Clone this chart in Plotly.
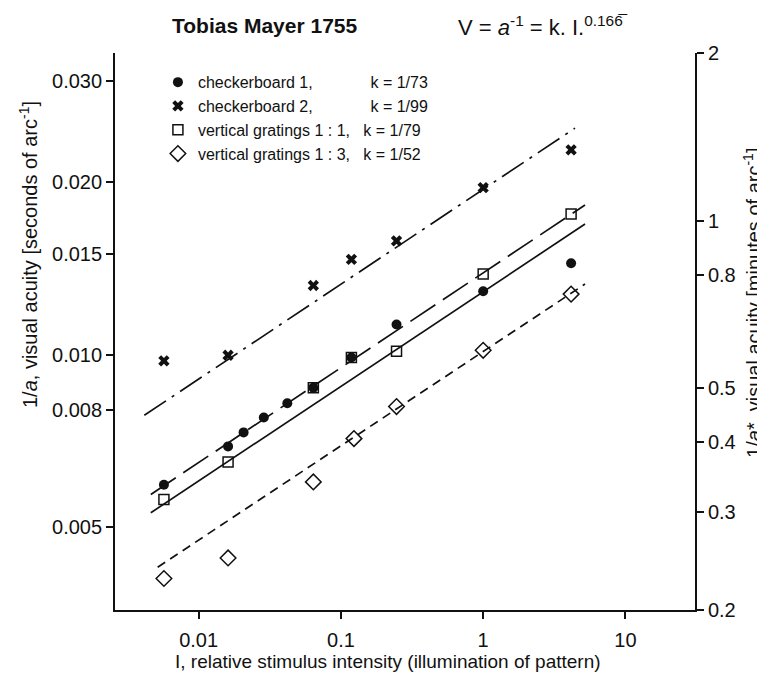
import math
import plotly.graph_objects as go

# ---------------- data ----------------
# relative stimulus intensity I
intensity = [0.0057, 0.0161, 0.0207, 0.0287, 0.042, 0.064, 0.1185, 0.246, 1.0, 4.15]

cb1_I = intensity
cb1_V = [0.00593, 0.00692, 0.00732, 0.00777, 0.00823, 0.00876, 0.00989, 0.01129, 0.01291, 0.01444]

cb2_I = [0.0057, 0.0161, 0.064, 0.1185, 0.246, 1.0, 4.15]
cb2_V = [0.00976, 0.00998, 0.01321, 0.01467, 0.01580, 0.01957, 0.02278]

vg11_I = [0.0057, 0.0161, 0.064, 0.1185, 0.246, 1.0, 4.15]
vg11_V = [0.00559, 0.00650, 0.00876, 0.00989, 0.01014, 0.01383, 0.01761]

vg13_I = [0.0057, 0.0161, 0.064, 0.1235, 0.246, 1.0, 4.15]
vg13_V = [0.00407, 0.00442, 0.00600, 0.00714, 0.00812, 0.01018, 0.01276]

# fitted lines (end points)
fit_dashdot_I = [0.00415, 4.42]
fit_dashdot_V = [0.00784, 0.02486]
fit_longdash_I = [0.00461, 5.20]
fit_longdash_V = [0.005705, 0.018255]
fit_solid_I = [0.00461, 5.20]
fit_solid_V = [0.00530, 0.01691]
fit_shortdash_I = [0.00515, 5.20]
fit_shortdash_V = [0.004258, 0.013287]

x_ticks = [0.01, 0.1, 1, 10]
x_ticktext = ["0.01", "0.1", "1", "10"]
yl_ticks = [0.005, 0.008, 0.010, 0.015, 0.020, 0.030]
yl_ticktext = ["0.005", "0.008", "0.010", "0.015", "0.020", "0.030"]
yr_ticks = [0.2, 0.3, 0.4, 0.5, 0.8, 1, 2]
yr_ticktext = ["0.2", "0.3", "0.4", "0.5", "0.8", "1", "2"]

FONT = "Liberation Sans, Arial, Helvetica, sans-serif"
BLACK = "#111111"

fig = go.Figure()

# fit lines
for xs, ys, dash in [
    (fit_dashdot_I, fit_dashdot_V, "26px,7px,3px,7px"),
    (fit_longdash_I, fit_longdash_V, "30px,9px"),
    (fit_solid_I, fit_solid_V, "solid"),
    (fit_shortdash_I, fit_shortdash_V, "9px,6px"),
]:
    fig.add_trace(go.Scatter(x=xs, y=ys, mode="lines", showlegend=False,
                             line=dict(color=BLACK, width=1.7, dash=dash),
                             hoverinfo="skip"))

sp = "\u00a0"
fig.add_trace(go.Scatter(x=cb1_I, y=cb1_V, mode="markers",
                         name="checkerboard 1," + sp * 13 + "k = 1/73",
                         marker=dict(symbol="circle", size=10, color=BLACK)))
fig.add_trace(go.Scatter(x=cb2_I, y=cb2_V, mode="markers",
                         name="checkerboard 2," + sp * 13 + "k = 1/99",
                         marker=dict(symbol="x", size=10, color=BLACK,
                                     line=dict(width=0))))
fig.add_trace(go.Scatter(x=vg11_I, y=vg11_V, mode="markers",
                         name="vertical gratings 1 : 1," + sp * 3 + "k = 1/79",
                         marker=dict(symbol="square-open", size=10, color=BLACK,
                                     line=dict(width=1.5))))
fig.add_trace(go.Scatter(x=vg13_I, y=vg13_V, mode="markers",
                         name="vertical gratings 1 : 3," + sp * 3 + "k = 1/52",
                         marker=dict(symbol="diamond-open", size=12, color=BLACK,
                                     line=dict(width=1.5))))

# empty trace so that the right-hand (minutes of arc) axis is drawn
fig.add_trace(go.Scatter(x=[None], y=[None], yaxis="y2", mode="markers",
                         showlegend=False, hoverinfo="skip"))

axis_common = dict(showgrid=False, zeroline=False, showline=True,
                   linecolor=BLACK, linewidth=1.8, ticks="outside",
                   ticklen=7, tickwidth=1.5, tickcolor=BLACK,
                   tickfont=dict(family=FONT, size=20, color=BLACK))

fig.update_layout(
    width=765, height=677,
    margin=dict(l=107, r=78, t=45, b=75),
    paper_bgcolor="white", plot_bgcolor="white",
    font=dict(family=FONT, color=BLACK),
    xaxis=dict(type="log", range=[-2.588, 1.489], tickmode="array",
               tickvals=x_ticks, ticktext=x_ticktext, ticklabelstandoff=4,
               **axis_common),
    yaxis=dict(type="log", range=[-2.4454, -1.4734], tickmode="array",
               tickvals=yl_ticks, ticktext=yl_ticktext, **axis_common),
    yaxis2=dict(type="log", range=[math.log10(0.2), math.log10(2)],
                overlaying="y", side="right", anchor="x", tickmode="array",
                tickvals=yr_ticks, ticktext=yr_ticktext, **axis_common),
    legend=dict(x=0.074, y=0.978, xanchor="left", yanchor="top",
                bgcolor="rgba(0,0,0,0)", borderwidth=0,
                font=dict(family=FONT, size=16, color=BLACK),
                itemwidth=30),
    showlegend=True,
)

annotations = [
    dict(text="<b>Tobias Mayer 1755</b>", x=0.2586, y=1.0485, xref="paper",
         yref="paper", xanchor="center", yanchor="middle", showarrow=False,
         font=dict(family=FONT, size=21, color=BLACK)),
    dict(text="V = <i>a</i><sup>-1</sup> = k. I.<sup>0.166\u0305</sup>",
         x=0.588, y=1.0485, xref="paper", yref="paper", xanchor="left",
         yanchor="middle", showarrow=False,
         font=dict(family=FONT, size=22, color=BLACK)),
    dict(text="1/<i>a</i>, visual acuity [seconds of arc<sup>-1</sup>]",
         x=-0.15, y=0.6373, xref="paper", yref="paper", xanchor="center",
         yanchor="middle", textangle=-90, showarrow=False,
         font=dict(family=FONT, size=20, color=BLACK)),
    dict(text="1/<i>a</i>*, visual acuity [minutes of arc<sup>-1</sup>]",
         x=1.098, y=0.551, xref="paper", yref="paper", xanchor="center",
         yanchor="middle", textangle=-90, showarrow=False,
         font=dict(family=FONT, size=20, color=BLACK)),
    dict(text="I, relative stimulus intensity (illumination of pattern)",
         x=0.47, y=-0.092, xref="paper", yref="paper", xanchor="center",
         yanchor="middle", showarrow=False,
         font=dict(family=FONT, size=19, color=BLACK)),
]
fig.update_layout(annotations=annotations)

fig.write_html("out.html")
